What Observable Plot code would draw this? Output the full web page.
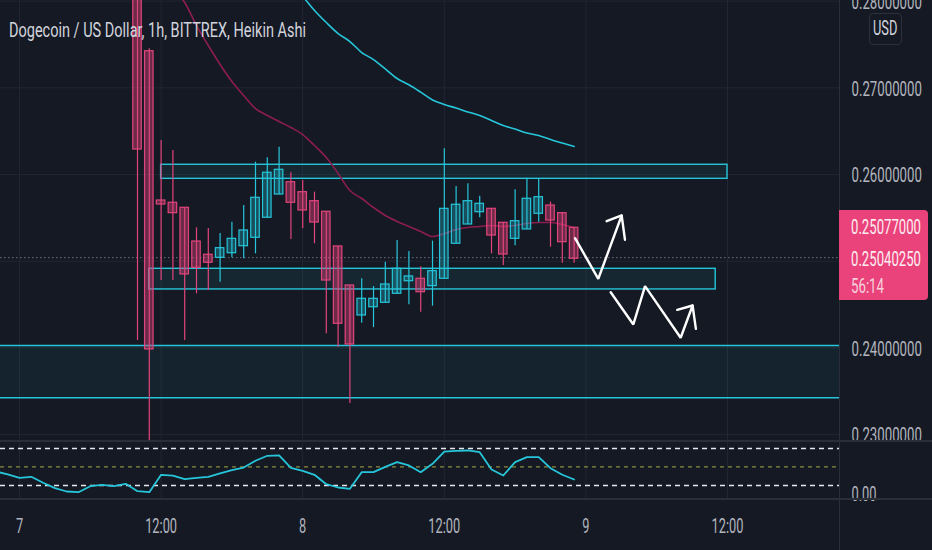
<!DOCTYPE html>
<html>
<head>
<meta charset="utf-8">
<script src="https://cdn.jsdelivr.net/npm/d3@7"></script>
<script src="https://cdn.jsdelivr.net/npm/@observablehq/plot@0.6"></script>
<style>
  html, body { margin: 0; padding: 0; background: #151924; }
  #wrap { position: relative; width: 932px; height: 550px; overflow: hidden; background: #151924; font-family: Roboto, "Open Sans", sans-serif; }
  #wrap > svg { position: absolute; left: 0; }
  .sq { position: absolute; white-space: nowrap; font-size: 21px; line-height: 21px; transform-origin: 0 50%; }
  .sep { position: absolute; background: #2a2e39; }
</style>
</head>
<body>
<div id="wrap"></div>
<script>
// ---------- DATA (hours counted from day 7, 00:00) ----------
const title = "Dogecoin / US Dollar, 1h, BITTREX, Heikin Ashi";
const timeTicks  = [0, 12, 24, 36, 48, 60];
const timeLabels = ["7", "12:00", "8", "12:00", "9", "12:00"];
const priceTicks = [0.23, 0.24, 0.25, 0.26, 0.27, 0.28];

const candleHours = [10,11,12,13,14,15,16,17,18,19,20,21,22,23,24,25,26,27,28,29,30,31,32,33,34,35,36,37,38,39,40,41,42,43,44,45,46,47];
const opens  = [0.2890,0.27422,0.25700,0.25674,0.25616,0.25227,0.25074,0.25039,0.25092,0.25173,0.25270,0.25501,0.25769,0.25911,0.25796,0.25692,0.25570,0.25170,0.24720,0.24374,0.24469,0.24520,0.24624,0.24769,0.24797,0.24712,0.24797,0.25201,0.25423,0.25565,0.25604,0.25443,0.25258,0.25366,0.25547,0.25642,0.25554,0.25385];
const highs  = [0.2920,0.27450,0.26392,0.26277,0.25616,0.25385,0.25377,0.25320,0.25450,0.25642,0.26142,0.26193,0.26315,0.26020,0.25931,0.25796,0.25570,0.25170,0.24720,0.24797,0.24708,0.24988,0.25239,0.25112,0.24935,0.25231,0.26296,0.25862,0.25893,0.25750,0.25604,0.25443,0.25824,0.25957,0.25942,0.25681,0.25554,0.25385];
const lows   = [0.24085,0.22850,0.24777,0.24777,0.24085,0.24624,0.24662,0.24758,0.25039,0.25028,0.25085,0.25501,0.25769,0.25250,0.25374,0.25201,0.24163,0.24008,0.23359,0.24285,0.24235,0.24520,0.24624,0.24497,0.24412,0.24481,0.24797,0.25201,0.25423,0.25501,0.25085,0.24950,0.25178,0.25366,0.25450,0.25161,0.24977,0.24977];
const closes = [0.26288,0.23982,0.25654,0.25554,0.24847,0.24924,0.24982,0.25150,0.25258,0.25354,0.25731,0.26020,0.26054,0.25674,0.25585,0.25446,0.24777,0.24278,0.24039,0.24566,0.24566,0.24731,0.24912,0.24824,0.24642,0.24885,0.25604,0.25651,0.25692,0.25662,0.25296,0.25077,0.25461,0.25720,0.25738,0.25469,0.25219,0.25028];

const slowMaHours  = [23,24,25,26,27,28,29,30,31,32,33,34,35,36,37,38,39,40,41,42,43,44,45,46,47];
const slowMaValues = [0.28192,0.28053,0.27892,0.27753,0.27626,0.27534,0.27407,0.27326,0.27217,0.27107,0.27035,0.26950,0.26860,0.26807,0.26766,0.26721,0.26681,0.26623,0.26565,0.26524,0.26479,0.26450,0.26404,0.26363,0.26323];

const fastMaHours  = [12,13,14,15,16,17,18,19,20,21,22,23,24,25,26,27,28,29,30,31,32,33,34,35,36,37,38,39,40,41,42,43,44,45,46,47];
const fastMaValues = [0.28353,0.28145,0.27984,0.27719,0.27488,0.27269,0.27073,0.26911,0.26761,0.26681,0.26611,0.26542,0.26461,0.26334,0.26196,0.26012,0.25815,0.25723,0.25619,0.25527,0.25458,0.25400,0.25343,0.25285,0.25319,0.25366,0.25389,0.25400,0.25412,0.25400,0.25412,0.25435,0.25446,0.25446,0.25423,0.25389];

const lastPrice = 0.2504025;

// drawn boxes: [startHour, endHour, top, bottom]
const boxStart  = [12, 11];
const boxEnd    = [60, 59];
const boxTop    = [0.26112, 0.24912];
const boxBottom = [0.25950, 0.24674];
// wide support zone
const zoneTop = 0.24028, zoneBottom = 0.23424;

// drawn arrows
const arrowUpHours    = [47.08, 49.05, 51.03];
const arrowUpPrices   = [0.25265, 0.24797, 0.25527];
const arrowUpHeadH    = [49.76, 51.03, 51.31];
const arrowUpHeadP    = [0.25461, 0.25527, 0.25247];
const arrowDownHours  = [50.10, 52.02, 53.01, 56.03, 57.04];
const arrowDownPrices = [0.24642, 0.24270, 0.24712, 0.24117, 0.24489];
const arrowDownHeadH  = [55.74, 57.04, 57.32];
const arrowDownHeadP  = [0.24439, 0.24489, 0.24220];

// oscillator pane
const oscHours  = [-2,-1,0,1,2,3,4,5,6,7,8,9,10,11,12,13,14,15,16,17,18,19,20,21,22,23,24,25,26,27,28,29,30,31,32,33,34,35,36,37,38,39,40,41,42,43,44,45,46,47];
const oscValues = [42.6,37.8,32.4,34.0,24.3,15.6,10.2,9.1,18.8,21.1,18.8,22.7,10.7,9.1,37.3,36.1,30.1,32.4,34.0,39.4,44.7,49.1,60.0,68.1,68.6,48.6,43.8,37.3,22.0,16.7,14.6,41.5,41.5,50.2,57.7,52.4,41.5,55.1,75.0,76.2,76.7,73.9,45.9,36.1,57.7,65.8,65.8,48.0,37.3,29.7];
const oscBands = [80, 20];
const oscMid = [50];
const oscTicks = [0];

const priceBox = ["0.25077000", "0.25040250", "56:14"];
const currency = "USD";

// ---------- STYLE ----------
const BG = "#151924", GRID = "#222633", TEAL = "#26c6da", PINK = "#e2457b", AXIS = "#b2b5be";
const xDomain = [-1.61, 69.49];
const BODY = 0.36;
const FS = 21;

const candles = candleHours.map((t, i) => ({t, open: opens[i], high: highs[i], low: lows[i], close: closes[i]}));
const bull = candles.filter(d => d.close >= d.open);
const bear = candles.filter(d => d.close < d.open);
const slowMa = slowMaHours.map((t, i) => ({t, v: slowMaValues[i]}));
const fastMa = fastMaHours.map((t, i) => ({t, v: fastMaValues[i]}));
const boxes = boxStart.map((s, i) => ({s, e: boxEnd[i], top: boxTop[i], bottom: boxBottom[i]}));
const zip = (a, b) => a.map((t, i) => ({t, v: b[i]}));
const osc = zip(oscHours, oscValues);

const wrap = document.getElementById("wrap");

const pricePlot = Plot.plot({
  width: 932, height: 441,
  marginTop: 0, marginRight: 93, marginBottom: 0, marginLeft: 0,
  style: {background: "transparent", fontFamily: "Roboto, sans-serif", fontSize: FS + "px", overflow: "hidden"},
  x: {domain: xDomain, axis: null},
  y: {domain: [0.22920, 0.28007]},
  marks: [
    Plot.ruleY(priceTicks, {stroke: GRID}),
    Plot.ruleX(timeTicks, {stroke: GRID}),
    Plot.rect([{top: zoneTop, bottom: zoneBottom}], {x1: () => xDomain[0], x2: () => xDomain[1], y1: "bottom", y2: "top", fill: TEAL, fillOpacity: 0.06, clip: true}),
    Plot.ruleY([zoneTop, zoneBottom], {stroke: TEAL, strokeWidth: 1.5}),
    Plot.rect(boxes, {x1: "s", x2: "e", y1: "bottom", y2: "top", fill: TEAL, fillOpacity: 0.08, stroke: TEAL, strokeWidth: 1.4, clip: true}),
    Plot.ruleY([lastPrice], {stroke: "#6f7380", strokeDasharray: "1.5,2.5", strokeWidth: 1}),
    Plot.line(slowMa, {x: "t", y: "v", stroke: TEAL, strokeWidth: 1.6, curve: "monotone-x", clip: true}),
    Plot.line(fastMa, {x: "t", y: "v", stroke: "#8c1d4f", strokeWidth: 1.6, curve: "monotone-x", clip: true}),
    Plot.ruleX(bear, {x: "t", y1: "low", y2: "high", stroke: PINK, strokeWidth: 1.2, clip: true}),
    Plot.ruleX(bull, {x: "t", y1: "low", y2: "high", stroke: TEAL, strokeWidth: 1.2, clip: true}),
    Plot.rect(bear, {x1: d => d.t - BODY, x2: d => d.t + BODY, y1: "open", y2: "close", fill: PINK, fillOpacity: 0.42, stroke: PINK, strokeWidth: 1.2, clip: true}),
    Plot.rect(bull, {x1: d => d.t - BODY, x2: d => d.t + BODY, y1: "open", y2: "close", fill: TEAL, fillOpacity: 0.3, stroke: TEAL, strokeWidth: 1.2, clip: true}),
    Plot.line(zip(arrowUpHours, arrowUpPrices), {x: "t", y: "v", stroke: "#ffffff", strokeWidth: 2.4, strokeLinejoin: "miter"}),
    Plot.line(zip(arrowUpHeadH, arrowUpHeadP), {x: "t", y: "v", stroke: "#ffffff", strokeWidth: 2.4, strokeLinejoin: "miter"}),
    Plot.line(zip(arrowDownHours, arrowDownPrices), {x: "t", y: "v", stroke: "#ffffff", strokeWidth: 2.4, strokeLinejoin: "miter"}),
    Plot.line(zip(arrowDownHeadH, arrowDownHeadP), {x: "t", y: "v", stroke: "#ffffff", strokeWidth: 2.4, strokeLinejoin: "miter"}),
    Plot.axisY(priceTicks.filter(d => d !== 0.25), {anchor: "right", tickSize: 0, tickPadding: 12, dy: 1, fontSize: FS, tickFormat: d3.format(".8f"), color: AXIS, label: null})
  ]
});
pricePlot.style.top = "0px";
wrap.append(pricePlot);

const oscPlot = Plot.plot({
  width: 932, height: 109,
  marginTop: 0, marginRight: 93, marginBottom: 51, marginLeft: 0,
  style: {background: BG, fontFamily: "Roboto, sans-serif", fontSize: FS + "px", overflow: "hidden"},
  x: {domain: xDomain},
  y: {domain: [-2.76, 91.25]},
  marks: [
    Plot.ruleX(timeTicks, {stroke: GRID}),
    Plot.ruleY(oscBands, {stroke: "#e6e8ee", strokeDasharray: "5,4", strokeWidth: 1.5}),
    Plot.ruleY(oscMid, {stroke: "#8a8a3a", strokeDasharray: "4,4", strokeWidth: 1.2}),
    Plot.line(osc, {x: "t", y: "v", stroke: TEAL, strokeWidth: 1.8, clip: true}),
    Plot.axisY(oscTicks, {anchor: "right", tickSize: 0, tickPadding: 12, dy: -4, fontSize: FS, tickFormat: d3.format(".2f"), color: AXIS, label: null}),
    Plot.axisX(timeTicks, {anchor: "bottom", tickSize: 0, tickPadding: 19, fontSize: FS, tickFormat: d => timeLabels[timeTicks.indexOf(d)], color: AXIS, label: null})
  ]
});
oscPlot.style.top = "441px";
wrap.append(oscPlot);

// squash svg text horizontally (the reference lettering is condensed)
function squash(svg, k) {
  svg.querySelectorAll("text").forEach(t => {
    t.setAttribute("font-size", FS);
    const tr = t.getAttribute("transform");
    if (tr) t.setAttribute("transform", tr + ` scale(${k},1)`);
    else {
      const x = +t.getAttribute("x") || 0;
      t.setAttribute("transform", `translate(${x},0) scale(${k},1) translate(${-x},0)`);
    }
  });
}
squash(pricePlot, 0.63);
squash(oscPlot, 0.61);

// separators
function sep(left, top, w, h) {
  const d = document.createElement("div");
  d.className = "sep";
  Object.assign(d.style, {left: left + "px", top: top + "px", width: w + "px", height: h + "px"});
  wrap.append(d);
  return d;
}
sep(0, 440, 932, 2);
sep(0, 498, 932, 1.5);
sep(839, 0, 1, 550);

// overlay labels
function label(txt, left, top, color, target) {
  const s = document.createElement("span");
  s.className = "sq";
  s.textContent = txt;
  Object.assign(s.style, {left: left + "px", top: top + "px", color});
  wrap.append(s);
  const w = s.getBoundingClientRect().width;
  s.style.transform = `scaleX(${target / w})`;
  return s;
}
label(title, 9, 19.8, "#d1d4dc", 297);

const usd = document.createElement("div");
Object.assign(usd.style, {position: "absolute", left: "869px", top: "12.7px", width: "33px", height: "32px", boxSizing: "border-box", border: "1px solid #2c303b", borderRadius: "4px"});
wrap.append(usd);
label(currency, 873.3, 18.1, "#d1d4dc", 24.4);

const pb = document.createElement("div");
Object.assign(pb.style, {position: "absolute", left: "839px", top: "210px", width: "89px", height: "90px", background: "#ea427a", borderRadius: "0 4px 4px 0"});
wrap.append(pb);
label(priceBox[0], 851, 217.1, "#fdeef3", 70);
label(priceBox[1], 851, 248.8, "#fdeef3", 70);
label(priceBox[2], 851, 275.5, "#f6d2de", 33);
</script>
</body>
</html>
